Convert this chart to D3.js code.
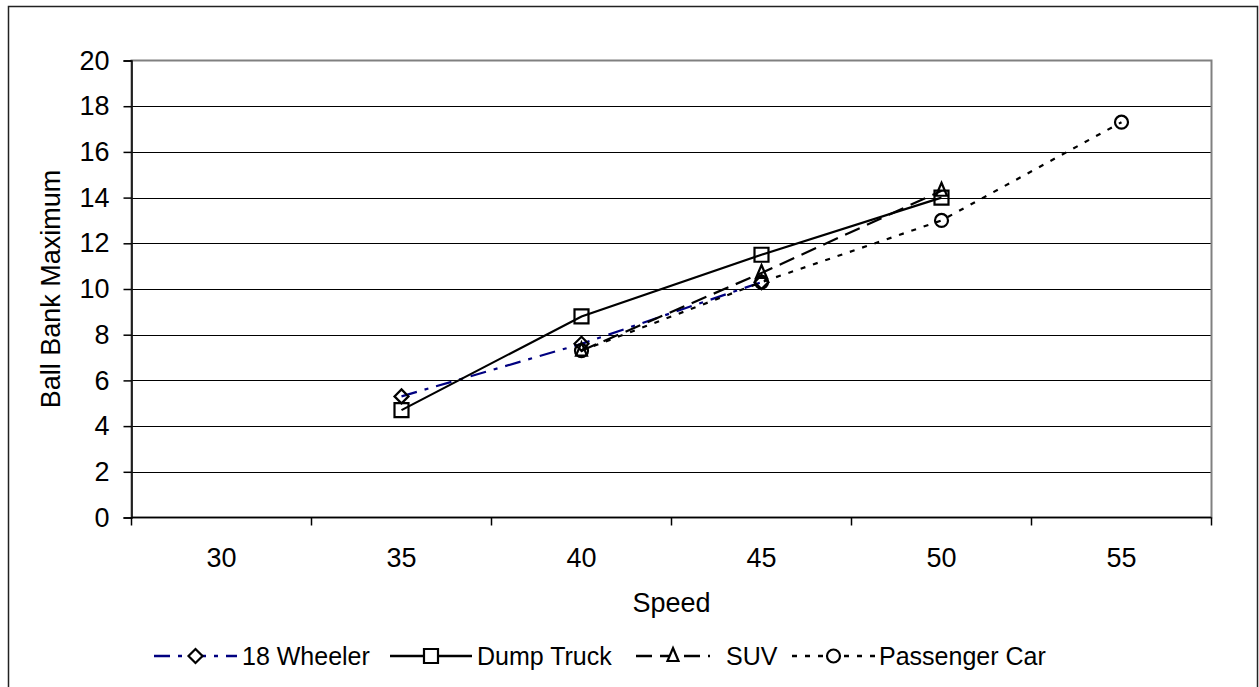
<!DOCTYPE html>
<html><head><meta charset="utf-8">
<script src="https://cdn.jsdelivr.net/npm/d3@7"></script>
<style>
html,body{margin:0;padding:0;background:#fff;}
text{font-family:"Liberation Sans",Arial,sans-serif;fill:#000;}
</style></head>
<body>
<svg id="chart" width="1259" height="687"></svg>
<script>
const categories = ["30","35","40","45","50","55"];
const yTicks = [0,2,4,6,8,10,12,14,16,18,20];
const wheeler18 = [null, 5.3, 7.6, 10.3, null, null];
const dumpTruck = [null, 4.7, 8.8, 11.5, 14.0, null];
const suv = [null, null, 7.3, 10.7, 14.3, null];
const passengerCar = [null, null, 7.3, 10.3, 13.0, 17.3];
const seriesNames = ["18 Wheeler","Dump Truck","SUV","Passenger Car"];

const series = [
  {name: seriesNames[0], values: wheeler18, color: "#000080", dash: "16,8,4,8", marker: "diamond"},
  {name: seriesNames[1], values: dumpTruck, color: "#000", dash: null, marker: "square"},
  {name: seriesNames[2], values: suv, color: "#000", dash: "16,8", marker: "triangle"},
  {name: seriesNames[3], values: passengerCar, color: "#000", dash: "5,8", marker: "circle"}
];

const svg = d3.select("#chart");
const L = 131.5, R = 1211.5, T = 60.5, B = 517.5;
const x = d3.scaleBand().domain(categories).range([L, R]).padding(0);
const y = d3.scaleLinear().domain([0, 20]).range([B, T]);

// outer frame
svg.append("rect").attr("x",8.5).attr("y",6.5).attr("width",1249).attr("height",700)
  .attr("fill","none").attr("stroke","#222").attr("stroke-width",1.5);

// gridlines
svg.append("g").selectAll("line").data(yTicks.filter(d=>d>0&&d<20)).join("line")
  .attr("x1",L).attr("x2",R).attr("y1",d=>Math.round(y(d))+0.5).attr("y2",d=>Math.round(y(d))+0.5)
  .attr("stroke","#000").attr("stroke-width",1);

// plot border (gray)
svg.append("rect").attr("x",L).attr("y",T).attr("width",R-L).attr("height",B-T)
  .attr("fill","none").attr("stroke","#808080").attr("stroke-width",2);

// y axis
const yAxis = d3.axisLeft(y).tickValues(yTicks).tickSize(8).tickPadding(14).tickFormat(d3.format("d"));
const gy = svg.append("g").attr("transform",`translate(${L},0)`).call(yAxis);
gy.select(".domain").attr("stroke","#000").attr("stroke-width",1.5);
gy.selectAll(".tick line").attr("stroke","#000").attr("stroke-width",1.5);
gy.selectAll("text").attr("font-size","27px").style("font-family","'Liberation Sans',Arial,sans-serif").attr("fill","#000");

// x axis: ticks at band edges
const gx = svg.append("g").attr("transform",`translate(0,${B})`);
gx.append("line").attr("x1",L).attr("x2",R).attr("stroke","#000").attr("stroke-width",1.5);
const edges = categories.map(c=>x(c)).concat([x(categories[categories.length-1])+x.bandwidth()]);
gx.selectAll("line.tk").data(edges).join("line").attr("class","tk")
  .attr("x1",d=>d).attr("x2",d=>d).attr("y1",0).attr("y2",8).attr("stroke","#000").attr("stroke-width",1.5);
gx.selectAll("text").data(categories).join("text")
  .attr("x",d=>x(d)+x.bandwidth()/2).attr("y",49.5).attr("text-anchor","middle")
  .attr("font-size","27px").text(d=>d);

// axis titles
svg.append("text").attr("x",(L+R)/2).attr("y",612).attr("text-anchor","middle").attr("font-size","27px").text("Speed");
svg.append("text").attr("transform",`translate(60,${(T+B)/2}) rotate(-90)`).attr("text-anchor","middle")
  .attr("font-size","27px").text("Ball Bank Maximum");

// markers
function markerPath(type){
  if(type==="diamond"){ const s=7; return `M0,${-s}L${s},0L0,${s}L${-s},0Z`; }
  if(type==="square"){ const s=7; return `M${-s},${-s}H${s}V${s}H${-s}Z`; }
  if(type==="triangle"){ return `M0,-8L5.5,5H-5.5Z`; }
  return d3.symbol(d3.symbolCircle, Math.PI*6.5*6.5)();
}

const cx = c => x(c) + x.bandwidth()/2;
series.forEach(s=>{
  const pts = categories.map((c,i)=>({c, v:s.values[i]})).filter(p=>p.v!==null);
  const line = d3.line().x(p=>cx(p.c)).y(p=>y(p.v));
  svg.append("path").attr("d",line(pts)).attr("fill","none").attr("stroke",s.color)
    .attr("stroke-width",2.2).attr("stroke-dasharray",s.dash);
});
series.forEach(s=>{
  const pts = categories.map((c,i)=>({c, v:s.values[i]})).filter(p=>p.v!==null);
  svg.append("g").selectAll("path").data(pts).join("path")
    .attr("transform",p=>`translate(${cx(p.c)},${y(p.v)})`)
    .attr("d",markerPath(s.marker)).attr("fill","none").attr("stroke","#000").attr("stroke-width",2.2);
});

// legend
const legendY = 656;
const legendLines = [[154,237],[390,472],[636,710],[792,875]];
const textX = [242,477,726,879];
series.forEach((s,i)=>{
  const g = svg.append("g");
  const [a,b] = legendLines[i];
  g.append("line").attr("x1",a).attr("x2",b).attr("y1",legendY).attr("y2",legendY)
    .attr("stroke",s.color).attr("stroke-width",2.5).attr("stroke-dasharray",s.dash);
  g.append("path").attr("transform",`translate(${(a+b)/2},${legendY})`).attr("d",markerPath(s.marker))
    .attr("fill","#fff").attr("stroke","#000").attr("stroke-width",2.2);
  g.append("text").attr("x",textX[i]).attr("y",legendY+9).attr("font-size","25px").text(s.name);
});
</script>
</body></html>
